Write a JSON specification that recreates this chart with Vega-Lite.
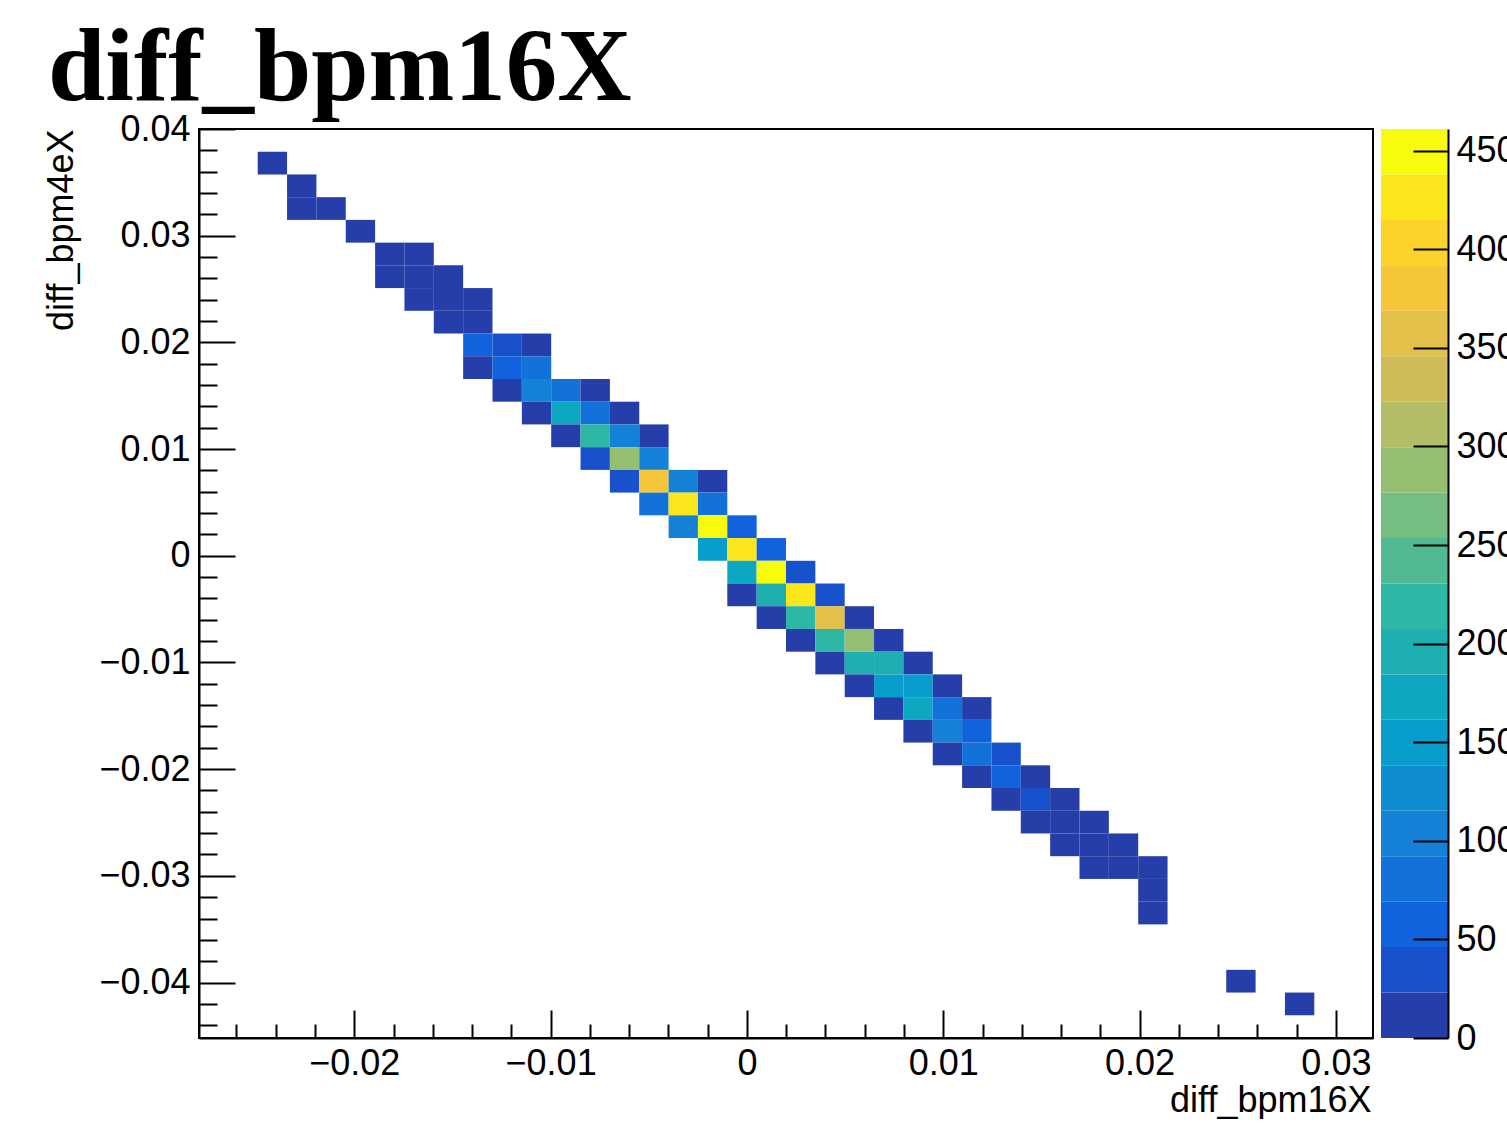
{
  "$schema": "https://vega.github.io/schema/vega-lite/v6.json",
  "autosize": {"type": "pad"},
  "padding": {"left": 42, "top": 18, "right": 0, "bottom": 0},
  "background": "white",
  "title": {"text": "diff_bpm16X", "font": "Liberation Serif", "fontSize": 103, "fontWeight": "bold", "color": "black", "anchor": "start", "frame": "group", "offset": 0, "baseline": "alphabetic", "dx": -151, "dy": 93},
  "datasets": {
    "cells": [
      {"x0": -0.02492, "x1": -0.023425, "y0": 0.03574, "y1": 0.03787, "n": 9},
      {"x0": -0.023425, "x1": -0.02193, "y0": 0.03361, "y1": 0.03574, "n": 12},
      {"x0": -0.023425, "x1": -0.02193, "y0": 0.03148, "y1": 0.03361, "n": 10},
      {"x0": -0.02193, "x1": -0.020435, "y0": 0.03148, "y1": 0.03361, "n": 8},
      {"x0": -0.020435, "x1": -0.01894, "y0": 0.02935, "y1": 0.03148, "n": 7},
      {"x0": -0.01894, "x1": -0.017445, "y0": 0.02722, "y1": 0.02935, "n": 14},
      {"x0": -0.017445, "x1": -0.01595, "y0": 0.02722, "y1": 0.02935, "n": 11},
      {"x0": -0.01894, "x1": -0.017445, "y0": 0.02509, "y1": 0.02722, "n": 9},
      {"x0": -0.017445, "x1": -0.01595, "y0": 0.02509, "y1": 0.02722, "n": 16},
      {"x0": -0.01595, "x1": -0.014455, "y0": 0.02509, "y1": 0.02722, "n": 13},
      {"x0": -0.017445, "x1": -0.01595, "y0": 0.02296, "y1": 0.02509, "n": 6},
      {"x0": -0.01595, "x1": -0.014455, "y0": 0.02296, "y1": 0.02509, "n": 18},
      {"x0": -0.014455, "x1": -0.01296, "y0": 0.02296, "y1": 0.02509, "n": 12},
      {"x0": -0.01595, "x1": -0.014455, "y0": 0.02083, "y1": 0.02296, "n": 11},
      {"x0": -0.014455, "x1": -0.01296, "y0": 0.02083, "y1": 0.02296, "n": 19},
      {"x0": -0.014455, "x1": -0.01296, "y0": 0.0187, "y1": 0.02083, "n": 58},
      {"x0": -0.01296, "x1": -0.011465, "y0": 0.0187, "y1": 0.02083, "n": 36},
      {"x0": -0.011465, "x1": -0.00997, "y0": 0.0187, "y1": 0.02083, "n": 15},
      {"x0": -0.014455, "x1": -0.01296, "y0": 0.01657, "y1": 0.0187, "n": 13},
      {"x0": -0.01296, "x1": -0.011465, "y0": 0.01657, "y1": 0.0187, "n": 60},
      {"x0": -0.011465, "x1": -0.00997, "y0": 0.01657, "y1": 0.0187, "n": 80},
      {"x0": -0.01296, "x1": -0.011465, "y0": 0.01444, "y1": 0.01657, "n": 17},
      {"x0": -0.011465, "x1": -0.00997, "y0": 0.01444, "y1": 0.01657, "n": 104},
      {"x0": -0.00997, "x1": -0.008475, "y0": 0.01444, "y1": 0.01657, "n": 82},
      {"x0": -0.008475, "x1": -0.00698, "y0": 0.01444, "y1": 0.01657, "n": 12},
      {"x0": -0.011465, "x1": -0.00997, "y0": 0.01231, "y1": 0.01444, "n": 19},
      {"x0": -0.00997, "x1": -0.008475, "y0": 0.01231, "y1": 0.01444, "n": 172},
      {"x0": -0.008475, "x1": -0.00698, "y0": 0.01231, "y1": 0.01444, "n": 79},
      {"x0": -0.00698, "x1": -0.005485, "y0": 0.01231, "y1": 0.01444, "n": 14},
      {"x0": -0.00997, "x1": -0.008475, "y0": 0.01018, "y1": 0.01231, "n": 16},
      {"x0": -0.008475, "x1": -0.00698, "y0": 0.01018, "y1": 0.01231, "n": 218},
      {"x0": -0.00698, "x1": -0.005485, "y0": 0.01018, "y1": 0.01231, "n": 106},
      {"x0": -0.005485, "x1": -0.00399, "y0": 0.01018, "y1": 0.01231, "n": 18},
      {"x0": -0.008475, "x1": -0.00698, "y0": 0.00805, "y1": 0.01018, "n": 37},
      {"x0": -0.00698, "x1": -0.005485, "y0": 0.00805, "y1": 0.01018, "n": 289},
      {"x0": -0.005485, "x1": -0.00399, "y0": 0.00805, "y1": 0.01018, "n": 103},
      {"x0": -0.00698, "x1": -0.005485, "y0": 0.00592, "y1": 0.00805, "n": 34},
      {"x0": -0.005485, "x1": -0.00399, "y0": 0.00592, "y1": 0.00805, "n": 382},
      {"x0": -0.00399, "x1": -0.002495, "y0": 0.00592, "y1": 0.00805, "n": 108},
      {"x0": -0.002495, "x1": -0.001, "y0": 0.00592, "y1": 0.00805, "n": 20},
      {"x0": -0.005485, "x1": -0.00399, "y0": 0.00379, "y1": 0.00592, "n": 84},
      {"x0": -0.00399, "x1": -0.002495, "y0": 0.00379, "y1": 0.00592, "n": 430},
      {"x0": -0.002495, "x1": -0.001, "y0": 0.00379, "y1": 0.00592, "n": 78},
      {"x0": -0.00399, "x1": -0.002495, "y0": 0.00166, "y1": 0.00379, "n": 101},
      {"x0": -0.002495, "x1": -0.001, "y0": 0.00166, "y1": 0.00379, "n": 461},
      {"x0": -0.001, "x1": 0.000495, "y0": 0.00166, "y1": 0.00379, "n": 57},
      {"x0": -0.002495, "x1": -0.001, "y0": -0.00047, "y1": 0.00166, "n": 152},
      {"x0": -0.001, "x1": 0.000495, "y0": -0.00047, "y1": 0.00166, "n": 426},
      {"x0": 0.000495, "x1": 0.00199, "y0": -0.00047, "y1": 0.00166, "n": 62},
      {"x0": -0.001, "x1": 0.000495, "y0": -0.0026, "y1": -0.00047, "n": 170},
      {"x0": 0.000495, "x1": 0.00199, "y0": -0.0026, "y1": -0.00047, "n": 452},
      {"x0": 0.00199, "x1": 0.003485, "y0": -0.0026, "y1": -0.00047, "n": 40},
      {"x0": -0.001, "x1": 0.000495, "y0": -0.00473, "y1": -0.0026, "n": 21},
      {"x0": 0.000495, "x1": 0.00199, "y0": -0.00473, "y1": -0.0026, "n": 194},
      {"x0": 0.00199, "x1": 0.003485, "y0": -0.00473, "y1": -0.0026, "n": 432},
      {"x0": 0.003485, "x1": 0.00498, "y0": -0.00473, "y1": -0.0026, "n": 38},
      {"x0": 0.000495, "x1": 0.00199, "y0": -0.00686, "y1": -0.00473, "n": 19},
      {"x0": 0.00199, "x1": 0.003485, "y0": -0.00686, "y1": -0.00473, "n": 221},
      {"x0": 0.003485, "x1": 0.00498, "y0": -0.00686, "y1": -0.00473, "n": 358},
      {"x0": 0.00498, "x1": 0.006475, "y0": -0.00686, "y1": -0.00473, "n": 17},
      {"x0": 0.00199, "x1": 0.003485, "y0": -0.00899, "y1": -0.00686, "n": 22},
      {"x0": 0.003485, "x1": 0.00498, "y0": -0.00899, "y1": -0.00686, "n": 216},
      {"x0": 0.00498, "x1": 0.006475, "y0": -0.00899, "y1": -0.00686, "n": 292},
      {"x0": 0.006475, "x1": 0.00797, "y0": -0.00899, "y1": -0.00686, "n": 18},
      {"x0": 0.003485, "x1": 0.00498, "y0": -0.01112, "y1": -0.00899, "n": 15},
      {"x0": 0.00498, "x1": 0.006475, "y0": -0.01112, "y1": -0.00899, "n": 198},
      {"x0": 0.006475, "x1": 0.00797, "y0": -0.01112, "y1": -0.00899, "n": 193},
      {"x0": 0.00797, "x1": 0.009465, "y0": -0.01112, "y1": -0.00899, "n": 20},
      {"x0": 0.00498, "x1": 0.006475, "y0": -0.01325, "y1": -0.01112, "n": 13},
      {"x0": 0.006475, "x1": 0.00797, "y0": -0.01325, "y1": -0.01112, "n": 149},
      {"x0": 0.00797, "x1": 0.009465, "y0": -0.01325, "y1": -0.01112, "n": 153},
      {"x0": 0.009465, "x1": 0.01096, "y0": -0.01325, "y1": -0.01112, "n": 19},
      {"x0": 0.006475, "x1": 0.00797, "y0": -0.01538, "y1": -0.01325, "n": 16},
      {"x0": 0.00797, "x1": 0.009465, "y0": -0.01538, "y1": -0.01325, "n": 175},
      {"x0": 0.009465, "x1": 0.01096, "y0": -0.01538, "y1": -0.01325, "n": 83},
      {"x0": 0.01096, "x1": 0.012455, "y0": -0.01538, "y1": -0.01325, "n": 15},
      {"x0": 0.00797, "x1": 0.009465, "y0": -0.01751, "y1": -0.01538, "n": 21},
      {"x0": 0.009465, "x1": 0.01096, "y0": -0.01751, "y1": -0.01538, "n": 102},
      {"x0": 0.01096, "x1": 0.012455, "y0": -0.01751, "y1": -0.01538, "n": 61},
      {"x0": 0.009465, "x1": 0.01096, "y0": -0.01964, "y1": -0.01751, "n": 14},
      {"x0": 0.01096, "x1": 0.012455, "y0": -0.01964, "y1": -0.01751, "n": 79},
      {"x0": 0.012455, "x1": 0.01395, "y0": -0.01964, "y1": -0.01751, "n": 35},
      {"x0": 0.01096, "x1": 0.012455, "y0": -0.02177, "y1": -0.01964, "n": 12},
      {"x0": 0.012455, "x1": 0.01395, "y0": -0.02177, "y1": -0.01964, "n": 56},
      {"x0": 0.01395, "x1": 0.015445, "y0": -0.02177, "y1": -0.01964, "n": 18},
      {"x0": 0.012455, "x1": 0.01395, "y0": -0.0239, "y1": -0.02177, "n": 9},
      {"x0": 0.01395, "x1": 0.015445, "y0": -0.0239, "y1": -0.02177, "n": 33},
      {"x0": 0.015445, "x1": 0.01694, "y0": -0.0239, "y1": -0.02177, "n": 14},
      {"x0": 0.01395, "x1": 0.015445, "y0": -0.02603, "y1": -0.0239, "n": 11},
      {"x0": 0.015445, "x1": 0.01694, "y0": -0.02603, "y1": -0.0239, "n": 17},
      {"x0": 0.01694, "x1": 0.018435, "y0": -0.02603, "y1": -0.0239, "n": 8},
      {"x0": 0.015445, "x1": 0.01694, "y0": -0.02816, "y1": -0.02603, "n": 10},
      {"x0": 0.01694, "x1": 0.018435, "y0": -0.02816, "y1": -0.02603, "n": 13},
      {"x0": 0.018435, "x1": 0.01993, "y0": -0.02816, "y1": -0.02603, "n": 9},
      {"x0": 0.01694, "x1": 0.018435, "y0": -0.03029, "y1": -0.02816, "n": 7},
      {"x0": 0.018435, "x1": 0.01993, "y0": -0.03029, "y1": -0.02816, "n": 11},
      {"x0": 0.01993, "x1": 0.021425, "y0": -0.03029, "y1": -0.02816, "n": 10},
      {"x0": 0.01993, "x1": 0.021425, "y0": -0.03242, "y1": -0.03029, "n": 6},
      {"x0": 0.01993, "x1": 0.021425, "y0": -0.03455, "y1": -0.03242, "n": 5},
      {"x0": 0.024415, "x1": 0.02591, "y0": -0.04094, "y1": -0.03881, "n": 2},
      {"x0": 0.027405, "x1": 0.0289, "y0": -0.04307, "y1": -0.04094, "n": 1}
    ],
    "levels": [
      {"lo": 0, "hi": 23.05, "mid": 11.5},
      {"lo": 23.05, "hi": 46.1, "mid": 34.6},
      {"lo": 46.1, "hi": 69.15, "mid": 57.6},
      {"lo": 69.15, "hi": 92.2, "mid": 80.7},
      {"lo": 92.2, "hi": 115.25, "mid": 103.7},
      {"lo": 115.25, "hi": 138.3, "mid": 126.8},
      {"lo": 138.3, "hi": 161.35, "mid": 149.8},
      {"lo": 161.35, "hi": 184.4, "mid": 172.9},
      {"lo": 184.4, "hi": 207.45, "mid": 195.9},
      {"lo": 207.45, "hi": 230.5, "mid": 219},
      {"lo": 230.5, "hi": 253.55, "mid": 242},
      {"lo": 253.55, "hi": 276.6, "mid": 265},
      {"lo": 276.6, "hi": 299.65, "mid": 288},
      {"lo": 299.65, "hi": 322.7, "mid": 311},
      {"lo": 322.7, "hi": 345.75, "mid": 334},
      {"lo": 345.75, "hi": 368.8, "mid": 357},
      {"lo": 368.8, "hi": 391.85, "mid": 380},
      {"lo": 391.85, "hi": 414.9, "mid": 403},
      {"lo": 414.9, "hi": 437.95, "mid": 426},
      {"lo": 437.95, "hi": 461, "mid": 449.5}
    ]
  },
  "spacing": 7,
  "resolve": {"scale": {"color": "independent", "x": "independent", "y": "independent"}},
  "hconcat": [
    {
      "width": 1174,
      "height": 909,
      "view": {"stroke": "black", "strokeWidth": 2},
      "data": {"name": "cells"},
      "mark": {"type": "rect", "strokeWidth": 0},
      "encoding": {
        "x": {
          "field": "x0", "type": "quantitative",
          "scale": {"domain": [-0.02791, 0.03189], "nice": false, "zero": false},
          "axis": {
            "values": [-0.026, -0.024, -0.022, -0.02, -0.018, -0.016, -0.014, -0.012, -0.01, -0.008, -0.006, -0.004, -0.002, 0, 0.002, 0.004, 0.006, 0.008, 0.01, 0.012, 0.014, 0.016, 0.018, 0.02, 0.022, 0.024, 0.026, 0.028, 0.03],
            "format": "~g",
            "labelExpr": "abs(datum.value*100 - round(datum.value*100)) < 0.01 ? datum.label : ''",
            "tickSize": {"condition": {"test": "abs(datum.value*100 - round(datum.value*100)) < 0.01", "value": -28}, "value": -14},
            "tickColor": "black", "tickWidth": 2,
            "domainColor": "black", "domainWidth": 2,
            "grid": false, "zindex": 1,
            "labelFont": "Liberation Sans", "labelFontSize": 36, "labelColor": "black", "labelPadding": 36,
            "labelOverlap": false, "labelFlush": false,
            "title": "diff_bpm16X",
            "titleFont": "Liberation Sans", "titleFontSize": 36, "titleFontWeight": "normal", "titleColor": "black",
            "titleX": 1172, "titleY": 73, "titleAlign": "right", "titleBaseline": "alphabetic", "titleAngle": 0
          }
        },
        "x2": {"field": "x1"},
        "y": {
          "field": "y0", "type": "quantitative",
          "scale": {"domain": [-0.0452, 0.04], "nice": false, "zero": false},
          "axis": {
            "values": [-0.044, -0.042, -0.04, -0.038, -0.036, -0.034, -0.032, -0.03, -0.028, -0.026, -0.024, -0.022, -0.02, -0.018, -0.016, -0.014, -0.012, -0.01, -0.008, -0.006, -0.004, -0.002, 0, 0.002, 0.004, 0.006, 0.008, 0.01, 0.012, 0.014, 0.016, 0.018, 0.02, 0.022, 0.024, 0.026, 0.028, 0.03, 0.032, 0.034, 0.036, 0.038, 0.04],
            "format": "~g",
            "labelExpr": "abs(datum.value*100 - round(datum.value*100)) < 0.01 ? datum.label : ''",
            "tickSize": {"condition": {"test": "abs(datum.value*100 - round(datum.value*100)) < 0.01", "value": -36}, "value": -18},
            "tickColor": "black", "tickWidth": 2,
            "domainColor": "black", "domainWidth": 2,
            "grid": false, "zindex": 1,
            "labelFont": "Liberation Sans", "labelFontSize": 36, "labelColor": "black", "labelPadding": 45,
            "labelOverlap": false, "labelFlush": false,
            "title": "diff_bpm4eX",
            "titleFont": "Liberation Sans", "titleFontSize": 36, "titleFontWeight": "normal", "titleColor": "black",
            "titleX": -127, "titleY": 0, "titleAlign": "right", "titleBaseline": "alphabetic", "titleAngle": 270
          }
        },
        "y2": {"field": "y1"},
        "color": {
          "field": "n", "type": "quantitative",
          "scale": {"type": "quantize", "domain": [0, 461], "range": ["#263ea9", "#1752cc", "#1063dc", "#1272d9", "#1480d6", "#0e8ed1", "#099dcc", "#0ea7c2", "#1eafb3", "#2eb7a4", "#51ba92", "#75bd80", "#96be71", "#b3bd65", "#d0bb59", "#e3c04a", "#f5c63a", "#fdd22b", "#fbe61c", "#f9fb0e"]},
          "legend": null
        }
      }
    },
    {
      "width": 67,
      "height": 909,
      "view": {"stroke": null},
      "data": {"name": "levels"},
      "mark": {"type": "rect", "strokeWidth": 0},
      "encoding": {
        "y": {
          "field": "lo", "type": "quantitative",
          "scale": {"domain": [0, 461], "nice": false, "zero": true},
          "axis": {
            "orient": "right",
            "values": [0, 50, 100, 150, 200, 250, 300, 350, 400, 450],
            "tickSize": -35, "tickColor": "black", "tickWidth": 2,
            "domainColor": "black", "domainWidth": 2,
            "grid": false, "zindex": 1,
            "labelFont": "Liberation Sans", "labelFontSize": 36, "labelColor": "black", "labelPadding": 43,
            "labelOverlap": false, "labelFlush": false,
            "title": null
          }
        },
        "y2": {"field": "hi"},
        "color": {
          "field": "mid", "type": "quantitative",
          "scale": {"type": "quantize", "domain": [0, 461], "range": ["#263ea9", "#1752cc", "#1063dc", "#1272d9", "#1480d6", "#0e8ed1", "#099dcc", "#0ea7c2", "#1eafb3", "#2eb7a4", "#51ba92", "#75bd80", "#96be71", "#b3bd65", "#d0bb59", "#e3c04a", "#f5c63a", "#fdd22b", "#fbe61c", "#f9fb0e"]},
          "legend": null
        }
      }
    }
  ]
}
